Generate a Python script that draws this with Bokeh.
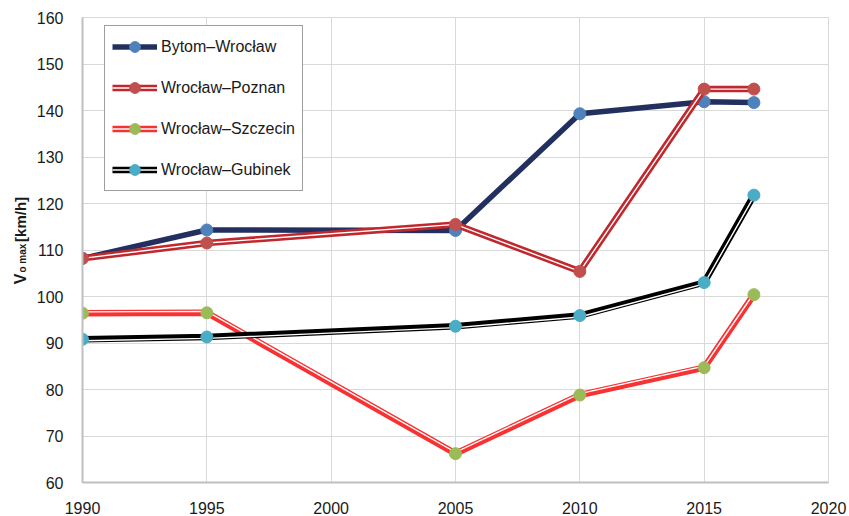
import math
from bokeh.plotting import figure
from bokeh.layouts import row
from bokeh.core.properties import value
from bokeh.models import Range1d, FixedTicker, Legend, LegendItem, ColumnDataSource
from bokeh.transform import dodge
from bokeh.embed import file_html
from bokeh.resources import INLINE

years = [1990, 1995, 2005, 2010, 2015, 2017]
bytom = [108.2, 114.3, 114.2, 139.3, 141.9, 141.7]
poznan = [108.2, 111.5, 115.5, 105.4, 144.6, 144.6]
szczecin = [96.4, 96.5, 66.2, 78.8, 84.7, 100.4]
gubinek = [90.8, 91.3, 93.6, 95.9, 103.0, 121.8]
names = ["Bytom\u2013Wroc\u0142aw", "Wroc\u0142aw\u2013Poznan", "Wroc\u0142aw\u2013Szczecin", "Wroc\u0142aw\u2013Gubinek"]
x_ticks = [1990, 1995, 2000, 2005, 2010, 2015, 2020]
y_ticks = [60, 70, 80, 90, 100, 110, 120, 130, 140, 150, 160]
axis_title = ["V", "o max", "[km/h]"]

FONT = "Liberation Sans"
LEFT_W = 30

p = figure(width=849 - LEFT_W, height=516, output_backend="svg", toolbar_location=None,
           x_range=Range1d(1990, 2020), y_range=Range1d(60, 160),
           min_border_left=82 - LEFT_W, min_border_right=21, min_border_top=17, min_border_bottom=34)
p.outline_line_color = "#d9d9d9"
p.background_fill_color = "white"
p.border_fill_color = "white"

for ax in (p.xaxis, p.yaxis):
    ax.axis_line_color = "#bfbfbf"
    ax.axis_line_width = 2
    ax.major_tick_line_color = None
    ax.minor_tick_line_color = None
    ax.major_label_text_font = FONT
    ax.major_label_text_font_size = "16px"
    ax.major_label_text_color = "#1a1a1a"
    ax.major_label_standoff = 13
p.xaxis.ticker = FixedTicker(ticks=x_ticks)
p.yaxis.ticker = FixedTicker(ticks=y_ticks)
p.xgrid.ticker = FixedTicker(ticks=x_ticks)
p.ygrid.ticker = FixedTicker(ticks=y_ticks)
p.grid.grid_line_color = "#d9d9d9"
p.grid.grid_line_width = 1

specs = [
    (bytom, "#23305f", "#4f81bd", "solid", 0.0),
    (poznan, "#c0282d", "#c0504d", "double", 0.0),
    (szczecin, "#f83232", "#9bbb59", "double", 1.4),
    (gubinek, "#000000", "#4bacc6", "double", -1.4),
]
px_per_unit = 465 / 100.0

items = []
for (vals, lc, mc, style, off), name in zip(specs, names):
    src = ColumnDataSource(dict(x=years, y=vals))
    rs = []
    if style == "solid":
        rs.append(p.line("x", "y", source=src, line_color=lc, line_width=5.5, line_join="round"))
    else:
        rs.append(p.line("x", "y", source=src, line_color=lc, line_width=6.5, line_join="miter"))
        rs.append(p.line("x", dodge("y", off / px_per_unit, range=p.y_range), source=src,
                         line_color="white", line_width=1.4, line_join="miter"))
    rs.append(p.scatter("x", "y", source=src, size=12, fill_color=mc, line_color=mc))
    items.append(LegendItem(label=name, renderers=rs))

legend = Legend(items=items, location=(22, 291))
legend.label_text_font = FONT
legend.label_text_font_size = "16px"
legend.label_text_color = "#1a1a1a"
legend.border_line_color = "#404040"
legend.border_line_width = 1
legend.background_fill_color = "white"
legend.background_fill_alpha = 1
legend.padding = 7
legend.margin = 0
legend.spacing = 14
legend.glyph_width = 45
legend.glyph_height = 27
legend.label_height = 27
legend.label_standoff = 4
p.add_layout(legend, "center")

# narrow strip holding the rotated axis title (with subscript)
t = figure(width=LEFT_W, height=516, output_backend="svg", toolbar_location=None,
           x_range=Range1d(0, LEFT_W), y_range=Range1d(516, 0), min_border=0)
t.axis.visible = False
t.grid.visible = False
t.outline_line_color = None
t.background_fill_color = "white"
t.border_fill_color = "white"
title_x = [19.5, 21.5, 19.5]
title_y = [296, 283, 249]
title_sizes = ["16px", "10px", "15px"]
for s, xx, yy, fs in zip(axis_title, title_x, title_y, title_sizes):
    t.text(x=[xx], y=[yy], text=[s], angle=math.pi / 2, text_font=value(FONT), text_font_size=fs,
           text_font_style="bold", text_baseline="alphabetic", text_align="left",
           text_color="#1a1a1a")

layout = row(t, p, spacing=0)
open("out.html", "w").write(file_html(layout, INLINE))
